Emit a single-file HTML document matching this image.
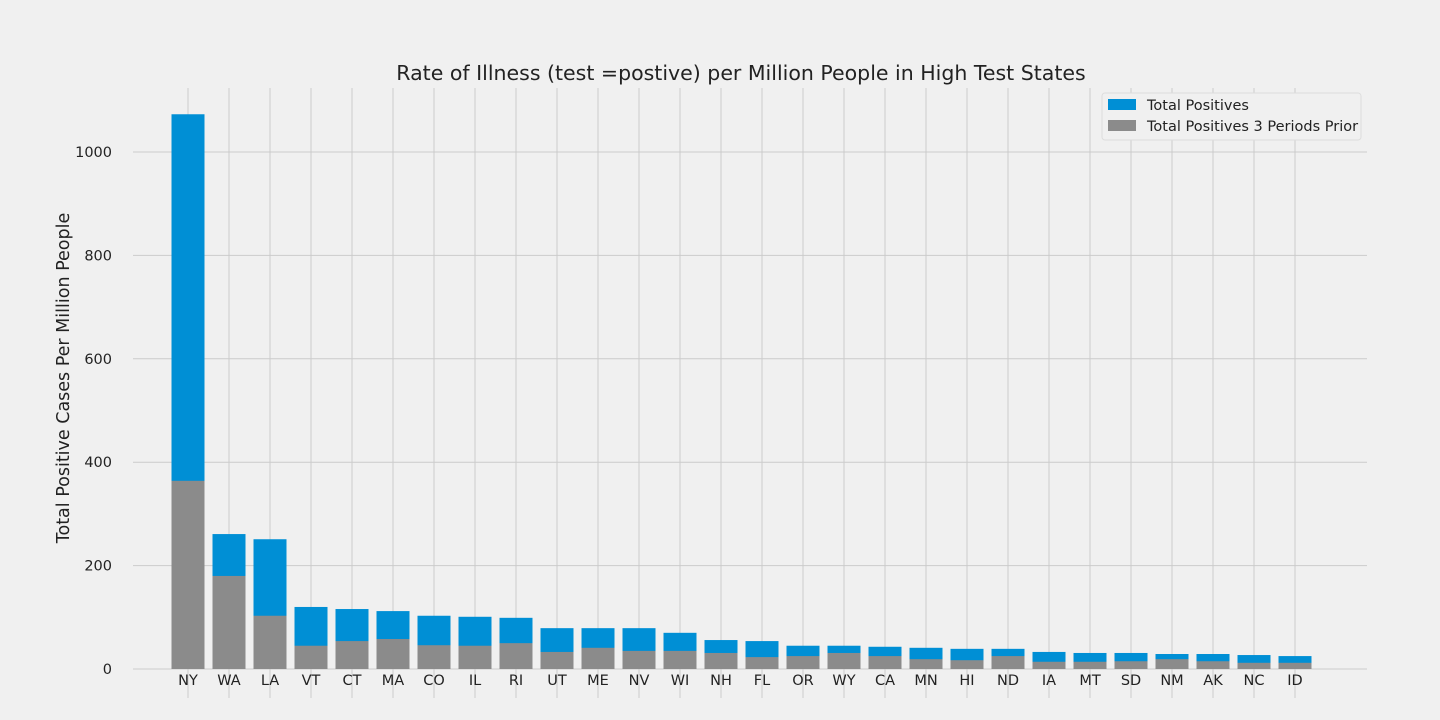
<!DOCTYPE html>
<html><head><meta charset="utf-8"><style>
body{margin:0;background:#f0f0f0;}
svg{display:block;font-family:"DejaVu Sans","Liberation Sans",sans-serif;}
</style></head><body>
<svg id="c" width="1440" height="720">
<rect width="1440" height="720" fill="#f0f0f0"/>
<g id="grid"></g><g id="bars"></g><g id="ticks"></g>
<text x="741" y="80" font-size="20.5" text-anchor="middle" fill="#222">Rate of Illness (test =postive) per Million People in High Test States</text>
<text transform="translate(69,378) rotate(-90)" font-size="17.5" text-anchor="middle" fill="#222">Total Positive Cases Per Million People</text>
<g>
<rect x="1102" y="93" width="259" height="47" rx="3" fill="#f0f0f0" stroke="#ddd"/>
<rect x="1108" y="99" width="28" height="11" fill="#008fd5"/>
<text x="1147" y="110" font-size="14.5" fill="#222">Total Positives</text>
<rect x="1108" y="120" width="28" height="11" fill="#8b8b8b"/>
<text x="1147" y="131" font-size="14.5" fill="#222">Total Positives 3 Periods Prior</text>
</g>
</svg>
<script>
const states=["NY","WA","LA","VT","CT","MA","CO","IL","RI","UT","ME","NV","WI","NH","FL","OR","WY","CA","MN","HI","ND","IA","MT","SD","NM","AK","NC","ID"];
const totals=[1073,261,251,120,116,112,103,101,99,79,79,79,70,56,54,45,45,43,41,39,39,33,31,31,29,29,27,25];
const prior=[364,180,103,45,54,58,46,45,50,33,41,35,35,31,23,25,31,25,19,17,25,14,14,15,19,15,12,12];
const yTicks=[0,200,400,600,800,1000];
const NS="http://www.w3.org/2000/svg";
const L=133,R=1367,T=88,B=698;
function y(v){return 669-v*0.517;}
function x(i){return 188+i*(1295-188)/(states.length-1);}
function mk(t,a,p){const e=document.createElementNS(NS,t);for(const k in a)e.setAttribute(k,a[k]);p.appendChild(e);return e;}
const g=document.getElementById('grid'),b=document.getElementById('bars'),tk=document.getElementById('ticks');
yTicks.forEach(v=>{
 const l=mk('line',{x1:L,x2:R,y1:y(v),y2:y(v),stroke:'#cbcbcb','stroke-width':1},g);
 
 
 const t=mk('text',{x:112,y:y(v)+5,'font-size':14.5,'text-anchor':'end',fill:'#222'},tk);
 t.textContent=v;
 
 
});
states.forEach((s,i)=>{
 const l=mk('line',{x1:x(i),x2:x(i),y1:T,y2:B,stroke:'#cbcbcb','stroke-width':1},g);
 
 
 const r1=mk('rect',{x:x(i)-16.5,width:33,y:y(totals[i]),height:y(0)-y(totals[i]),fill:'#008fd5'},b);
 
 
 const r2=mk('rect',{x:x(i)-16.5,width:33,y:y(prior[i]),height:y(0)-y(prior[i]),fill:'#8b8b8b'},b);
 
 
 const t=mk('text',{x:x(i),y:685,'font-size':14.5,'text-anchor':'middle',fill:'#222'},tk);
 t.textContent=s;
 
 
});
</script>
</body></html>
